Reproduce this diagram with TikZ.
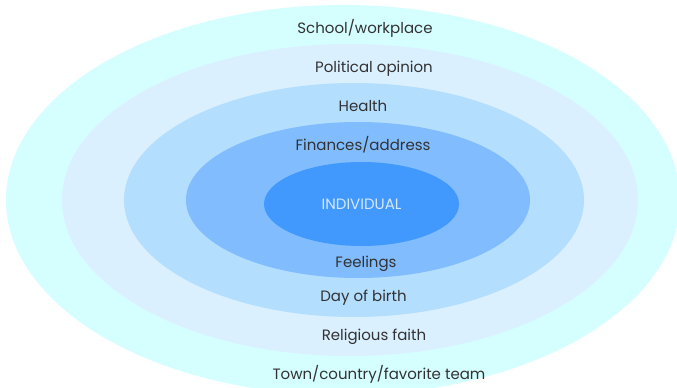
\documentclass[tikz,border=0pt]{standalone}
\usepackage{fontspec}
\setmainfont{Poppins}
\definecolor{ringA}{RGB}{213,254,255}
\definecolor{ringB}{RGB}{219,240,254}
\definecolor{ringC}{RGB}{180,222,254}
\definecolor{ringD}{RGB}{128,188,254}
\definecolor{ringE}{RGB}{65,153,254}
\definecolor{labelgray}{RGB}{50,50,52}
\definecolor{corelabel}{RGB}{214,232,255}
\begin{document}
\begin{tikzpicture}[x=1pt,y=-1pt,
  lbl/.style={font=\fontsize{15}{17}\selectfont, text=labelgray, inner sep=0pt, anchor=base},
  corelbl/.style={lbl, text=corelabel}]
\useasboundingbox (0,0) rectangle (677,388);
\fill[white] (0,0) rectangle (677,388);
% nested rings, outermost first
\begin{scope}
  \clip (0,0) rectangle (677,388);
  \fill[ringA] (343,200) ellipse [x radius=337, y radius=195];
  \fill[ringB] (350,200) ellipse [x radius=288, y radius=156];
  \fill[ringC] (354,200) ellipse [x radius=230, y radius=117];
  \fill[ringD] (358,200) ellipse [x radius=172, y radius=78];
  \fill[ringE] (361.5,204) ellipse [x radius=97.5, y radius=42];
\end{scope}
% labels, top half (placed by baseline)
\node[lbl] (school)    at (365,33.5)  {School/workplace};
\node[lbl] (political) at (374,72.5)  {Political opinion};
\node[lbl] (health)    at (363,111.5) {Health};
\node[lbl] (finances)  at (363,150.5) {Finances/address};
\node[corelbl] (individual) at (361.5,209.5) {INDIVIDUAL};
% labels, bottom half
\node[lbl] (feelings)  at (366,267.5) {Feelings};
\node[lbl] (birth)     at (363.5,301) {Day of birth};
\node[lbl] (religion)  at (374,340)   {Religious faith};
\node[lbl] (town)      at (379,379)   {Town/country/favorite team};
\end{tikzpicture}
\end{document}
